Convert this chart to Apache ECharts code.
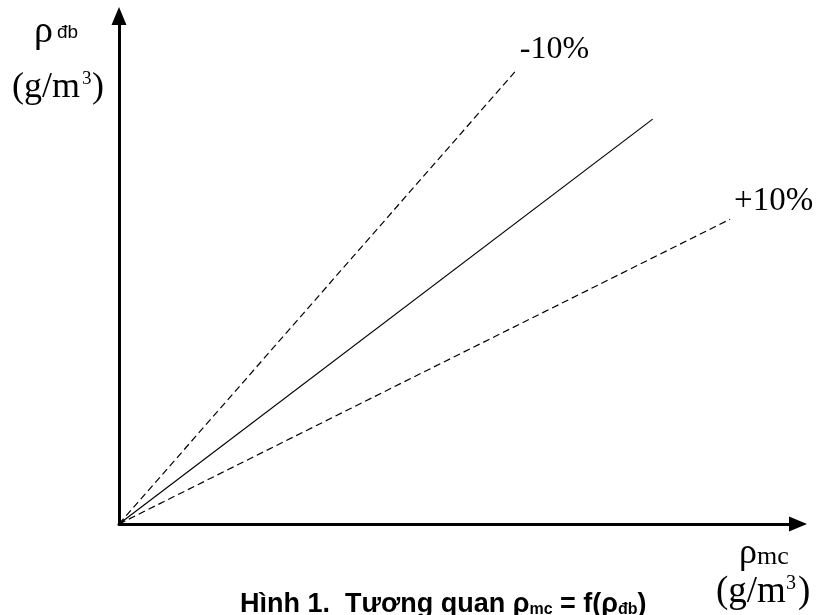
<!DOCTYPE html>
<html>
<head>
<meta charset="utf-8">
<script src="https://cdn.jsdelivr.net/npm/echarts@6/dist/echarts.min.js"></script>
<style>
  html, body { margin: 0; padding: 0; background: #fff; }
  #chart { width: 817px; height: 615px; }
</style>
</head>
<body>
<div id="chart"></div>
<script>
// axis ranges (no ticks shown in the figure)
const xRange = [0, 100];
const yRange = [0, 100];

// three lines from the origin
const minusLine = [[0, 0], [58.3, 89]];
const baseLine = [[0, 0], [78.6, 79.7]];
const plusLine = [[0, 0], [90, 60]];
const lineLabels = ['-10%', '', '+10%'];

const serif = 'Liberation Serif';
const sans = 'Liberation Sans';

const chart = echarts.init(document.getElementById('chart'));

function axisStyle() {
  return {
    show: true,
    onZero: false,
    symbol: ['none', 'triangle'],
    symbolSize: [15, 18],
    symbolOffset: [0, 0],
    lineStyle: { color: '#000', width: 3 }
  };
}

function txt(left, top, text, font) {
  return { type: 'text', left: left, top: top, style: { text: text, font: font, fill: '#000' } };
}

const option = {
  animation: false,
  title: {
    left: 240,
    top: 591,
    padding: 0,
    text: '{b|Hình 1.  Tương quan ρ}{s|mc}{b| = f(ρ}{s|đb}{b|)}',
    textStyle: {
      rich: {
        b: { fontFamily: sans, fontWeight: 'bold', fontSize: 27, color: '#000', verticalAlign: 'bottom' },
        s: { fontFamily: sans, fontWeight: 'bold', fontSize: 16, color: '#000', verticalAlign: 'bottom' }
      }
    }
  },
  grid: { left: 119, right: 19, top: 16, bottom: 91 },
  xAxis: {
    type: 'value', min: xRange[0], max: xRange[1],
    axisLine: axisStyle(),
    axisTick: { show: false }, axisLabel: { show: false }, splitLine: { show: false }
  },
  yAxis: {
    type: 'value', min: yRange[0], max: yRange[1],
    axisLine: axisStyle(),
    axisTick: { show: false }, axisLabel: { show: false }, splitLine: { show: false }
  },
  graphic: [
    // y axis name
    txt(34, 13, 'ρ', '38px ' + serif),
    txt(57, 23, 'đb', '19px ' + sans),
    txt(12, 70, '(g/m', '36px ' + serif),
    txt(82, 70, '3', '19px ' + serif),
    txt(92, 70, ')', '36px ' + serif),
    // x axis name
    txt(739, 536, 'ρ', '36px ' + serif),
    txt(757, 544, 'mc', '26px ' + serif),
    txt(716, 574, '(g/m', '37px ' + serif),
    txt(786, 574, '3', '20px ' + serif),
    txt(798, 574, ')', '37px ' + serif)
  ],
  series: [
    {
      type: 'line', data: minusLine, symbol: 'none',
      lineStyle: { color: '#000', width: 1.2, type: [7, 4] },
      endLabel: { show: true, formatter: lineLabels[0], fontFamily: serif, fontSize: 32, color: '#000', offset: [-3, -22] }
    },
    {
      type: 'line', data: baseLine, symbol: 'none',
      lineStyle: { color: '#000', width: 1.2 }
    },
    {
      type: 'line', data: plusLine, symbol: 'none',
      lineStyle: { color: '#000', width: 1.2, type: [7, 4] },
      endLabel: { show: true, formatter: lineLabels[2], fontFamily: serif, fontSize: 33, color: '#000', offset: [-4, -18] }
    }
  ]
};

chart.setOption(option);
window.addEventListener('resize', function () {
  chart.resize();
});
</script>
</body>
</html>
